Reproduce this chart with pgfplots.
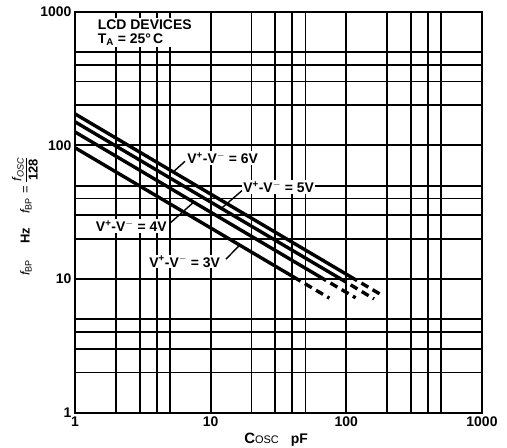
\documentclass[border=0pt]{standalone}
\usepackage{fontspec}
\setmainfont{Liberation Sans}
\usepackage{pgfplots}
\pgfplotsset{compat=1.18}
\begin{document}
\begin{tikzpicture}
\begin{axis}[
  scale only axis, width=407bp, height=401bp,
  xmode=log, ymode=log,
  xmin=1, xmax=1000, ymin=1, ymax=1000,
  xtick={1,10,100,1000}, xticklabels={1,10,100,1000},
  ytick={1,10,100,1000}, yticklabels={1,10,100,1000},
  minor xtick={2,3,4,5,20,30,40,50,200,300,400,500},
  minor ytick={2,3,4,5,20,30,40,50,200,300,400,500},
  grid=both,
  major grid style={black, line width=1.8bp},
  minor grid style={black, line width=1.8bp},
  axis line style={black, line width=2.2bp},
  major tick length=0pt, minor tick length=0pt,
  tick label style={font=\bfseries\fontsize{14}{16}\selectfont},
  xticklabel style={yshift=-1bp},
  clip=false,
]
% 3V
\addplot[black, line width=3.4bp] coordinates {(1,96) (46,9.65)};
\addplot[black, line width=3.4bp, dash pattern=on 8bp off 5bp, dash phase=8bp] coordinates {(46,9.65) (75,7.2)};
% 4V
\addplot[black, line width=3.4bp] coordinates {(1,126) (71,9.75)};
\addplot[black, line width=3.4bp, dash pattern=on 8bp off 5bp, dash phase=8bp] coordinates {(71,9.75) (117,7.24)};
% 5V
\addplot[black, line width=3.4bp] coordinates {(1,150) (100,9.46)};
\addplot[black, line width=3.4bp, dash pattern=on 8bp off 5bp, dash phase=8bp] coordinates {(100,9.46) (160,7.1)};
% 6V
\addplot[black, line width=3.4bp] coordinates {(1,172) (120,9.74)};
\addplot[black, line width=3.4bp, dash pattern=on 8bp off 5bp, dash phase=8bp] coordinates {(120,9.74) (188,7.45)};

% title
\node[anchor=north west, fill=white, inner sep=1.5bp, align=left,
      font=\bfseries\fontsize{14}{14}\selectfont]
  at (rel axis cs:0.052,0.985) {LCD DEVICES\\T\textsubscript{A} = 25°\,C};

% leaders
\draw[black, line width=1.4bp] (axis cs:6.47,76) -- (axis cs:5.3,63.3);
\draw[black, line width=1.4bp] (axis cs:17.3,46.5) -- (axis cs:12,33.8);
\draw[black, line width=1.4bp] (axis cs:5.02,26.2) -- (axis cs:7.5,37.6);
\draw[black, line width=1.4bp] (axis cs:12.97,14.1) -- (axis cs:16.4,17.95);

% labels
\tikzset{vlab/.style={fill=white, inner sep=1.2bp, font=\bfseries\fontsize{14}{15}\selectfont}}
\node[vlab, anchor=west] at (axis cs:6.58,80.4) {V\textsuperscript{+}-V\textsuperscript{$-$} = 6V};
\node[vlab, anchor=west] at (axis cs:17.0,48.8) {V\textsuperscript{+}-V\textsuperscript{$-$} = 5V};
\node[vlab, anchor=east] at (axis cs:4.85,24.9) {V\textsuperscript{+}-V\textsuperscript{$-$} = 4V};
\node[vlab, anchor=west] at (axis cs:3.45,13.5) {V\textsuperscript{+}-V\textsuperscript{$-$} = 3V};

% y label
\node[rotate=90, anchor=center, font=\fontsize{13}{14}\selectfont] at (rel axis cs:-0.123,0.49)
  {{\itshape f}\textsubscript{BP}\hspace{16bp}\textbf{Hz}\hspace{14bp}{\itshape f}\textsubscript{BP} = $\displaystyle\frac{\mbox{\itshape f\textsubscript{OSC}}}{\mbox{\bfseries 128}}$};

% x label
\node[anchor=center] at (rel axis cs:0.494,-0.068)
  {{\bfseries\fontsize{15}{16}\selectfont C}{\fontsize{11}{12}\selectfont OSC}\hspace{12bp}{\bfseries\fontsize{14}{16}\selectfont pF}};
\end{axis}
\pgfresetboundingbox
\path[use as bounding box] ([xshift=-75bp,yshift=-35.3bp]current axis.south west) rectangle ([xshift=25bp,yshift=11.7bp]current axis.north east);
\end{tikzpicture}
\end{document}
